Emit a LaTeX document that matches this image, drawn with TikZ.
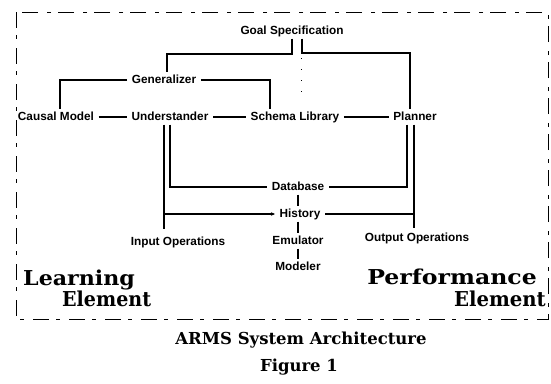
\documentclass[tikz,border=0pt]{standalone}
\usepackage{fontspec}
\setmainfont{Liberation Sans}
\newfontfamily\titlefont{DejaVu Serif}
\usetikzlibrary{arrows.meta}
\begin{document}
\begin{tikzpicture}[x=1pt,y=-1pt,
  lbl/.style={font=\fontsize{11.8}{13}\selectfont\bfseries, inner xsep=4.5pt, inner ysep=2pt, text height=8.5pt, text depth=2.5pt},
  conn/.style={line width=1.2pt},
  big/.style={font=\titlefont\bfseries\fontsize{20.5}{22}\selectfont, inner sep=0pt},
  capt/.style={font=\titlefont\bfseries\fontsize{16.5}{18}\selectfont, inner sep=0pt},
  framestyle/.style={line width=0.7pt, dash pattern=on 16pt off 7pt on 4pt off 9pt}]
\useasboundingbox (0,0) rectangle (551,383);
\draw[framestyle] (16,12) rectangle (548,319);

\node[lbl] (goal) at (292,31) {Goal Specification};
\node[lbl] (gen) at (164,80) {Generalizer};
\node[lbl] (causal) at (56,117) {Causal Model};
\node[lbl] (und) at (170,117) {Understander};
\node[lbl] (schema) at (295,117) {Schema Library};
\node[lbl] (plan) at (415,117) {Planner};
\node[lbl] (db) at (298,187) {Database};
\node[lbl] (hist) at (300,214) {History};
\node[lbl] (emu) at (298,241) {Emulator};
\node[lbl] (mod) at (298,267) {Modeler};
\node[lbl] (inp) at (178,242) {Input Operations};
\node[lbl] (outp) at (417,238) {Output Operations};

\coordinate (c1) at (167,54);
\coordinate (c2) at (410,53);
\coordinate (ul) at (164,229);
\coordinate (pr) at (414,228);
\coordinate (d1) at (301,58);
\coordinate (d2) at (301,98);

\draw[conn] (goal.south) |- (c1) -- (c1 |- gen.north);
\draw[conn] ([xshift=10pt]goal.south) |- (c2) -- (c2 |- plan.north);
\draw[conn] (gen.west) -| ([xshift=4pt]causal.north);
\draw[conn] (gen.east) -| ([xshift=-25pt]schema.north);
\draw[conn] (causal.east) -- (und.west);
\draw[conn] (und.east) -- (schema.west);
\draw[conn] (schema.east) -- (plan.west);
\draw[conn] (ul |- und.south) -- (ul);
\draw[conn] (und.south) |- (db.west);
\draw[conn,-{Stealth[length=4pt,width=3.5pt]}] (ul |- hist.west) -- (hist.west);
\draw[conn] ([xshift=-8pt]plan.south) |- (db.east);
\draw[conn] (pr |- plan.south) -- (pr);
\draw[conn] (pr |- hist.east) -- (hist.east);
\draw[conn] (db.south) -- (db.south |- hist.north);
\draw[conn] (emu.north |- hist.south) -- (emu.north);
\draw[conn] (emu.south) -- (mod.north);
\draw[line width=0.8pt, dash pattern=on 1pt off 10pt] (d1) -- (d2);

\node[big, anchor=base west] (learn) at (23,285) {\scalebox{1.08}[1]{Learning}};
\node[big, anchor=base west] (elemL) at (62,306) {\scalebox{0.93}[1]{Element}};
\node[big, anchor=base east] (perf) at (537,284) {\scalebox{1.15}[1]{Performance}};
\node[big, anchor=base east] (elemR) at (546,306) {\scalebox{0.96}[1]{Element}};
\node[capt, anchor=base] (arms) at (301,344) {ARMS System Architecture};
\node[capt, anchor=base] (fig) at (299,371) {Figure 1};
\end{tikzpicture}
\end{document}
